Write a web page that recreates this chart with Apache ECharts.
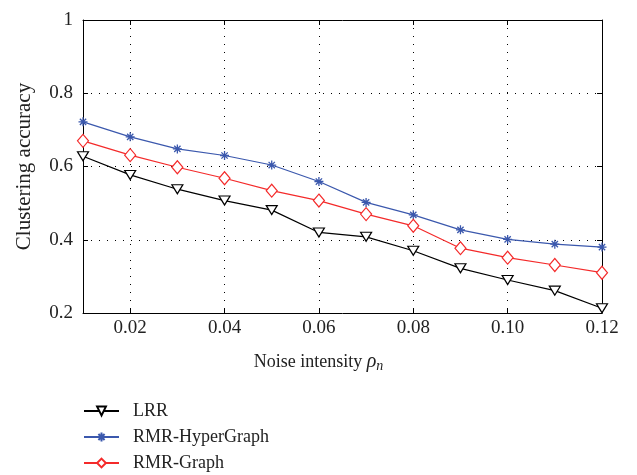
<!DOCTYPE html>
<html>
<head>
<meta charset="utf-8">
<script src="https://cdn.jsdelivr.net/npm/echarts@6/dist/echarts.min.js"></script>
<style>
  html, body { margin: 0; padding: 0; background: #fff; }
  #main { width: 637px; height: 475px; }
</style>
</head>
<body>
<div id="main"></div>
<script>
// noise intensity values on the x axis
var noise = ['0.01', '0.02', '0.03', '0.04', '0.05', '0.06', '0.07', '0.08', '0.09', '0.10', '0.11', '0.12'];
var lrr = [0.628, 0.577, 0.538, 0.507, 0.481, 0.420, 0.408, 0.370, 0.322, 0.290, 0.261, 0.213];
var rmrHyper = [0.722, 0.681, 0.648, 0.630, 0.604, 0.559, 0.502, 0.468, 0.427, 0.401, 0.388, 0.380];
var rmrGraph = [0.670, 0.631, 0.598, 0.568, 0.534, 0.507, 0.470, 0.438, 0.377, 0.351, 0.331, 0.310];
var yTicks = [0.2, 0.4, 0.6, 0.8, 1];

var font = 'Liberation Serif';
var asterisk = 'path://M5,0L5,10M0,5L10,5M1.5,1.5L8.5,8.5M1.5,8.5L8.5,1.5';
var everyOther = function (idx) { return idx % 2 === 1; };

var chart = echarts.init(document.getElementById('main'));

var option = {
    animation: false,
    backgroundColor: '#fff',
    textStyle: { fontFamily: font },
    grid: { left: 83, right: 35, top: 20, bottom: 162 },
    legend: {
        orient: 'vertical',
        left: 83,
        top: 402,
        padding: 0,
        itemWidth: 35,
        itemHeight: 11,
        itemGap: 8,
        textStyle: { fontFamily: font, fontSize: 18, color: '#222', padding: [0, 0, 0, 9] },
        data: ['LRR', 'RMR-HyperGraph', 'RMR-Graph']
    },
    xAxis: [{
        type: 'category',
        data: noise,
        boundaryGap: false,
        axisLine: { lineStyle: { color: '#000', width: 1 } },
        axisTick: { inside: true, length: 5, interval: everyOther, lineStyle: { color: '#000' } },
        axisLabel: { interval: everyOther, fontFamily: font, fontSize: 19, color: '#222', margin: 6 },
        splitLine: { show: true, interval: everyOther, lineStyle: { color: '#000', type: [1, 7], width: 1 } },
        name: 'Noise intensity {r|ρ}{n|n}',
        nameLocation: 'middle',
        nameGap: 38,
        nameTextStyle: {
            fontFamily: font, fontSize: 18, color: '#222',
            padding: [0, 48, 0, 0],
            rich: {
                r: { fontFamily: font, fontSize: 20, fontStyle: 'italic', color: '#222' },
                n: { fontFamily: font, fontSize: 14, fontStyle: 'italic', color: '#222', padding: [8, 0, 0, 0] }
            }
        }
    }, {
        type: 'category',
        data: noise,
        boundaryGap: false,
        position: 'top',
        axisLine: { lineStyle: { color: '#000', width: 1 } },
        axisTick: { inside: true, length: 5, interval: everyOther, lineStyle: { color: '#000' } },
        axisLabel: { show: false },
        splitLine: { show: false }
    }],
    yAxis: [{
        type: 'value',
        min: yTicks[0],
        max: yTicks[yTicks.length - 1],
        interval: 0.2,
        axisLine: { show: true, lineStyle: { color: '#000', width: 1 } },
        axisTick: { show: true, inside: true, length: 5, lineStyle: { color: '#000' } },
        axisLabel: {
            fontFamily: font, fontSize: 19, color: '#222', margin: 10,
            formatter: function (v) { return v === 1 ? '1' : v.toFixed(1); }
        },
        splitLine: { show: true, lineStyle: { color: '#000', type: [1, 7], width: 1 } },
        name: 'Clustering accuracy',
        nameLocation: 'middle',
        nameGap: 48,
        nameTextStyle: { fontFamily: font, fontSize: 21, color: '#222' }
    }, {
        type: 'value',
        position: 'right',
        min: yTicks[0],
        max: yTicks[yTicks.length - 1],
        interval: 0.2,
        axisLine: { show: true, lineStyle: { color: '#000', width: 1 } },
        axisTick: { show: true, inside: true, length: 5, lineStyle: { color: '#000' } },
        axisLabel: { show: false },
        splitLine: { show: false }
    }],
    series: [{
        name: 'LRR',
        type: 'line',
        data: lrr,
        symbol: 'triangle',
        symbolRotate: 180,
        symbolSize: [11, 9],
        lineStyle: { color: '#000', width: 1.2 },
        itemStyle: { color: '#fff', borderColor: '#000', borderWidth: 1.2 }
    }, {
        name: 'RMR-HyperGraph',
        type: 'line',
        data: rmrHyper,
        symbol: asterisk,
        symbolSize: 9,
        lineStyle: { color: '#3b58ad', width: 1.2 },
        itemStyle: { color: '#3b58ad', borderColor: '#3b58ad', borderWidth: 1.3 }
    }, {
        name: 'RMR-Graph',
        type: 'line',
        data: rmrGraph,
        symbol: 'diamond',
        symbolSize: [11, 13],
        lineStyle: { color: '#f42a2a', width: 1.2 },
        itemStyle: { color: '#fff', borderColor: '#f42a2a', borderWidth: 1.2 }
    }]
};

chart.setOption(option);
</script>
</body>
</html>
